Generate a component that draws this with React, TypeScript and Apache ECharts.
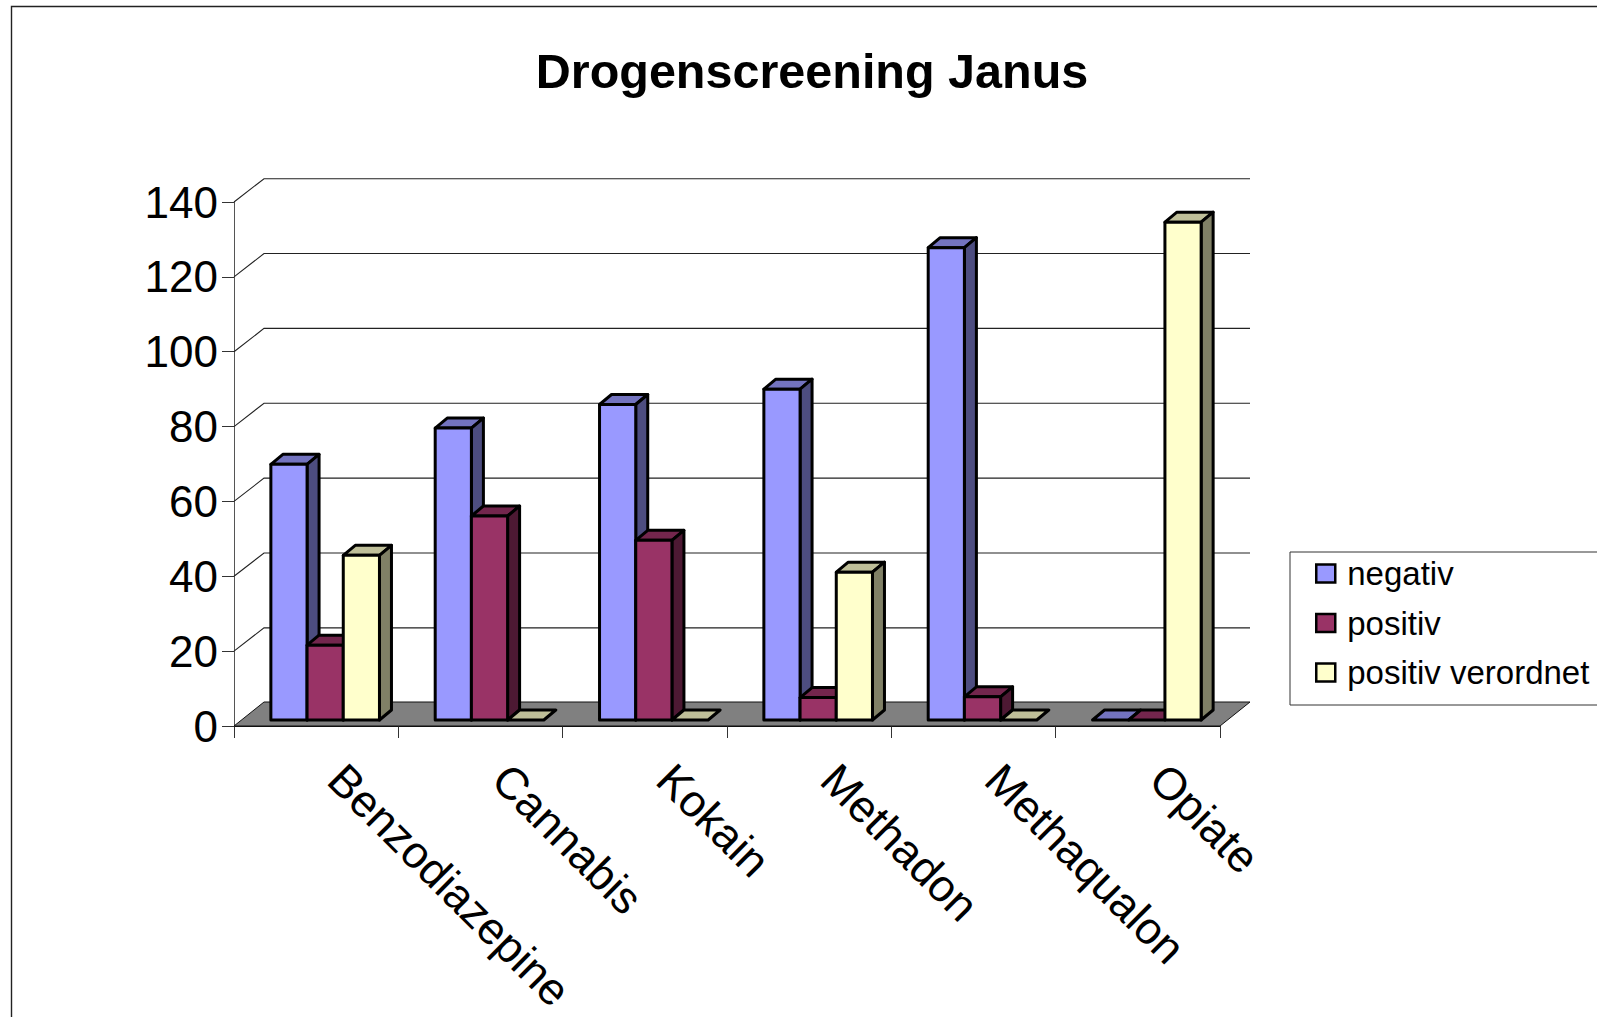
import React, { useEffect, useRef } from "react";
import * as echarts from "echarts";

const categories = ["Benzodiazepine", "Cannabis", "Kokain", "Methadon", "Methaqualon", "Opiate"];
const negativ = [68.3, 78, 84.3, 88.4, 126.2, 0];
const positiv = [20, 54.5, 48, 6, 6.2, 0];
const positivVerordnet = [44, 0, 0, 39.5, 0, 133];
const gridValues = [20, 40, 60, 80, 100, 120, 140];

const FONT = "Liberation Sans";
const WALL_DX = 30;
const WALL_DY = 23.3;
const FLOOR_DY = 24;
const BAR_SHIFT_X = 9;
const BAR_SHIFT_Y = 6;
const BAR_W = 36.2;
const DEPTH_X = 12;
const DEPTH_Y = 10;

function barSeries(name: string, values: number[], slot: number, front: string, top: string, side: string) {
  return {
    type: "custom",
    name,
    z: 5,
    itemStyle: { color: front },
    data: values.map((v, i) => [i, v]),
    renderItem: (_p: any, api: any) => {
      const cat = api.value(0);
      const val = api.value(1);
      const c = api.coord([cat, val]);
      const base = api.coord([cat, 0]);
      const x0 = c[0] + BAR_SHIFT_X + (slot - 1.5) * BAR_W;
      const x1 = x0 + BAR_W;
      const yTop = c[1] - BAR_SHIFT_Y;
      const yBot = base[1] - BAR_SHIFT_Y;
      const stroke = { stroke: "#000", lineWidth: 3, lineJoin: "round" };
      const children: any[] = [
        {
          type: "polygon",
          shape: { points: [[x0, yTop], [x1, yTop], [x1 + DEPTH_X, yTop - DEPTH_Y], [x0 + DEPTH_X, yTop - DEPTH_Y]] },
          style: { fill: top, ...stroke },
        },
      ];
      if (val > 0) {
        children.push(
          {
            type: "polygon",
            shape: { points: [[x1, yTop], [x1 + DEPTH_X, yTop - DEPTH_Y], [x1 + DEPTH_X, yBot - DEPTH_Y], [x1, yBot]] },
            style: { fill: side, ...stroke },
          },
          {
            type: "polygon",
            shape: { points: [[x0, yTop], [x1, yTop], [x1, yBot], [x0, yBot]] },
            style: { fill: front, ...stroke },
          }
        );
      }
      return { type: "group", children };
    },
  };
}

export default function App() {
  const ref = useRef<HTMLDivElement>(null);
  useEffect(() => {
    document.body.style.margin = "0";
    document.body.style.overflow = "hidden";
    const chart = echarts.init(ref.current!, undefined, { renderer: "svg" });
    chart.setOption({
      animation: false,
      backgroundColor: "#fff",
      textStyle: { fontFamily: FONT },
      title: {
        text: "Drogenscreening Janus",
        left: 807,
        top: 41,
        textAlign: "center",
        textStyle: { fontFamily: FONT, fontSize: 48.5, fontWeight: "bold", color: "#000" },
      },
      graphic: [
        {
          type: "rect",
          silent: true,
          z: -10,
          shape: { x: 11.5, y: 6.5, width: 1700, height: 1200 },
          style: { fill: "none", stroke: "#222", lineWidth: 1.4 },
        },
      ],
      grid: { left: 234, top: 202, width: 986, height: 524, containLabel: false },
      xAxis: {
        type: "category",
        data: categories,
        boundaryGap: true,
        axisLine: { lineStyle: { color: "#111", width: 1 } },
        axisTick: { show: true, length: 12, lineStyle: { color: "#333", width: 1 } },
        axisLabel: {
          interval: 0,
          rotate: -45,
          margin: 26,
          padding: [0, 0, 0, 28],
          fontFamily: FONT,
          fontSize: 45,
          color: "#000",
        },
      },
      yAxis: {
        type: "value",
        min: 0,
        max: 140,
        interval: 20,
        splitLine: { show: false },
        axisLine: { show: true, lineStyle: { color: "#555", width: 1 } },
        axisTick: { show: true, length: 12, lineStyle: { color: "#333", width: 1 } },
        axisLabel: { margin: 16, fontFamily: FONT, fontSize: 44, color: "#000" },
      },
      legend: {
        orient: "vertical",
        left: 1290,
        top: 552,
        padding: [5, 20, 16, 25],
        itemGap: 16.5,
        itemWidth: 19,
        itemHeight: 18,
        borderColor: "#333",
        borderWidth: 1,
        backgroundColor: "#fff",
        data: ["negativ", "positiv", "positiv verordnet"],
        icon: "rect",
        itemStyle: { borderColor: "#000", borderWidth: 2.5 },
        textStyle: { fontFamily: FONT, fontSize: 33, color: "#000", padding: [0, 0, 0, 7] },
      },
      series: [
        {
          type: "custom",
          name: "wall",
          z: 1,
          silent: true,
          data: gridValues.map((v) => [v]),
          encode: { y: 0 },
          renderItem: (_p: any, api: any) => {
            const v = api.value(0);
            const a = api.coord([0, v]);
            const b = api.coord([categories.length - 1, v]);
            const band = api.size([1, 0])[0];
            const x0 = a[0] - band / 2;
            const x1 = b[0] + band / 2;
            return {
              type: "polyline",
              shape: { points: [[x0, a[1]], [x0 + WALL_DX, a[1] - WALL_DY], [x1 + WALL_DX, a[1] - WALL_DY]] },
              style: { fill: "none", stroke: "#222", lineWidth: 1.1 },
            };
          },
        },
        {
          type: "custom",
          name: "floor",
          z: 2,
          silent: true,
          data: [[0]],
          encode: { y: 0 },
          renderItem: (_p: any, api: any) => {
            const a = api.coord([0, 0]);
            const b = api.coord([categories.length - 1, 0]);
            const band = api.size([1, 0])[0];
            const x0 = a[0] - band / 2;
            const x1 = b[0] + band / 2;
            return {
              type: "polygon",
              shape: { points: [[x0, a[1]], [x0 + WALL_DX, a[1] - FLOOR_DY], [x1 + WALL_DX, a[1] - FLOOR_DY], [x1, a[1]]] },
              style: { fill: "#808080", stroke: "#111", lineWidth: 1 },
            };
          },
        },
        barSeries("negativ", negativ, 0, "#9999FF", "#7373BF", "#4D4D80"),
        barSeries("positiv", positiv, 1, "#993366", "#73264D", "#4D1933"),
        barSeries("positiv verordnet", positivVerordnet, 2, "#FFFFCC", "#BFBF99", "#808066"),
      ],
    });
    return () => chart.dispose();
  }, []);
  return <div ref={ref} style={{ width: 1597, height: 1017, overflow: "hidden" }} />;
}
